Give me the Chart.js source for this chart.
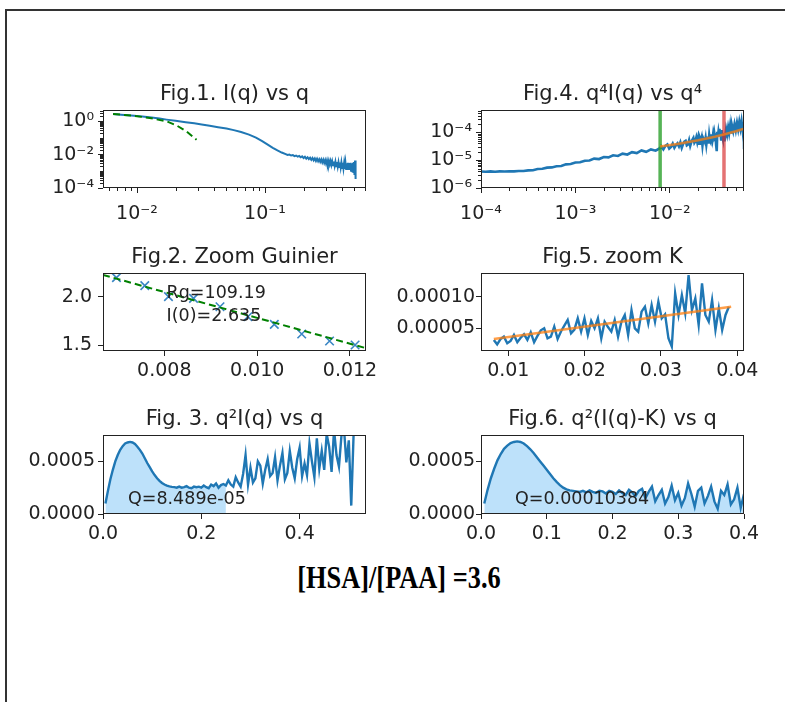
<!DOCTYPE html>
<html><head><meta charset="utf-8">
<script src="https://cdn.jsdelivr.net/npm/chart.js@4.4.0/dist/chart.umd.min.js"></script>
<style>
html,body{margin:0;padding:0;background:#fff;width:785px;height:702px;overflow:hidden;position:relative;}
#frame{position:absolute;left:5px;top:9px;width:800px;height:720px;border-top:2px solid #333;border-left:2px solid #333;}
canvas{position:absolute;}
#caption{position:absolute;left:199px;width:400px;top:561px;line-height:34px;text-align:center;font-family:'Liberation Serif',serif;font-weight:bold;font-size:31px;color:#000;white-space:nowrap;transform:scaleX(0.85);transform-origin:50% 50%;}
</style></head><body>
<div id="frame"></div>
<div id="caption">[HSA]/[PAA] =3.6</div>
<script>
// ---------- shared q grid (Fig.1 high-q part, Fig.3, Fig.6) ----------
const qGrid = [0.005,0.010,0.015,0.020,0.025,0.030,0.035,0.040,0.045,0.050,
0.055,0.060,0.065,0.070,0.075,0.080,0.085,0.090,0.095,0.100,
0.105,0.110,0.115,0.120,0.125,0.130,0.135,0.140,0.145,0.150,
0.155,0.160,0.165,0.170,0.175,0.180,0.185,0.190,0.195,0.200,
0.205,0.210,0.215,0.220,0.225,0.230,0.235,0.240,0.245,0.250,
0.255,0.260,0.265,0.270,0.275,0.280,0.285,0.290,0.295,0.300,
0.305,0.310,0.315,0.320,0.325,0.330,0.335,0.340,0.345,0.350,
0.355,0.360,0.365,0.370,0.375,0.380,0.385,0.390,0.395,0.400,
0.405,0.410,0.415,0.420,0.425,0.430,0.435,0.440,0.445,0.450,
0.455,0.460,0.465,0.470,0.475,0.480,0.485,0.490,0.495,0.500,
0.505,0.510];

// ---------- Fig.1  I(q) vs q ----------
const fig1QLow = [0.0065,0.0075,0.0085,0.0095,0.011,0.013,0.015,0.017,0.020,0.024,0.028,0.032,0.037,0.043,0.050,0.057,0.065,0.075,0.085,0.095,0.105,0.115,0.125,0.135,0.145];
const fig1ILow = [2.8,2.55,2.35,2.2,1.95,1.7,1.48,1.28,1.08,0.9,0.77,0.66,0.55,0.45,0.37,0.30,0.23,0.16,0.105,0.065,0.040,0.026,0.018,0.0135,0.0108];
const fig1IHigh = [0.0096,0.0102,0.0089,0.0094,0.0082,0.0089,0.0076,0.0084,0.0070,0.0079,
0.0063,0.0076,0.0058,0.0070,0.0054,0.0066,0.0049,0.0063,0.0046,0.0060,
0.0042,0.0058,0.0040,0.0054,0.0037,0.0052,0.0034,0.0050,0.0032,0.0048,
0.0029,0.0047,0.0027,0.0044,0.0026,0.0042,0.0024,0.0040,0.0023,0.0039,
0.0021,0.0038,0.0020,0.0036,0.0019,0.0035,0.0018,0.0034,0.0017,0.0034,
0.0016,0.0033,0.0015,0.0032,0.0014,0.0033,0.0014,0.0031,0.0013,0.0032,
0.0012,0.0030,0.0012,0.0032,0.0011,0.0030,0.0010,0.0033,0.0009,0.0036,
0.0006,0.0045,0.00035];
const fig1FitQ = [0.0065,0.0094,0.0126,0.0171,0.0204,0.0244,0.0292];
const fig1FitI = [2.8,2.2,1.6,1.0,0.57,0.25,0.078];
const fig1XTicks = [0.01,0.1], fig1XLabels = ['10⁻²','10⁻¹'];
const fig1YTicks = [1e-4,1e-2,1], fig1YLabels = ['10⁻⁴','10⁻²','10⁰'];

// ---------- Fig.2  Zoom Guinier ----------
const fig2Q = [0.00697,0.00758,0.00809,0.00863,0.00920,0.00980,0.01037,0.01096,0.01156,0.01211];
const fig2LnI = [2.197,2.114,2.0,1.983,1.896,1.793,1.714,1.614,1.541,1.5];
const fig2FitQ = [0.00668,0.01234];
const fig2FitLnI = [2.225,1.468];
const fig2XTicks = [0.008,0.010,0.012], fig2XLabels = ['0.008','0.010','0.012'];
const fig2YTicks = [1.5,2.0], fig2YLabels = ['1.5','2.0'];

// ---------- Fig.3  q^2 I(q) vs q ----------
const fig3Y = [1.0e-4,2.2e-4,3.3e-4,4.2e-4,5.0e-4,5.6e-4,6.1e-4,6.45e-4,6.7e-4,6.8e-4,
6.85e-4,6.8e-4,6.65e-4,6.4e-4,6.1e-4,5.75e-4,5.3e-4,4.85e-4,4.45e-4,4.05e-4,
3.7e-4,3.4e-4,3.15e-4,2.95e-4,2.8e-4,2.7e-4,2.62e-4,2.58e-4,2.55e-4,
2.5e-4,2.6e-4,2.5e-4,2.55e-4,2.65e-4,2.5e-4,2.45e-4,2.6e-4,2.55e-4,2.6e-4,
2.5e-4,2.7e-4,2.55e-4,2.45e-4,2.8e-4,2.65e-4,2.9e-4,2.5e-4,2.75e-4,2.85e-4,
2.7e-4,3.2e-4,2.8e-4,2.6e-4,3.5e-4,3.0e-4,2.6e-4,3.8e-4,5.6e-4,2.8e-4,
4.4e-4,3.0e-4,3.4e-4,5.0e-4,4.6e-4,2.9e-4,4.2e-4,5.2e-4,3.6e-4,3.9e-4,
5.4e-4,3.2e-4,4.6e-4,5.8e-4,3.3e-4,3.9e-4,6.0e-4,4.4e-4,3.4e-4,5.2e-4,
6.3e-4,3.6e-4,4.8e-4,3.7e-4,6.7e-4,5.0e-4,3.5e-4,7.2e-4,4.3e-4,6.0e-4,
4.2e-4,7.6e-4,6.4e-4,4.0e-4,8.0e-4,5.6e-4,4.5e-4,7.4e-4,8.3e-4,4.9e-4,
7.0e-4,0.8e-4,7.9e-4];
const fig3FillEnd = 0.25;
const fig3XTicks = [0,0.2,0.4], fig3XLabels = ['0.0','0.2','0.4'];
const fig3YTicks = [0,0.0005], fig3YLabels = ['0.0000','0.0005'];

// ---------- Fig.4  q^4 I(q) vs q^4 ----------
const fig4XLow = [1.0e-4,1.12e-4,1.26e-4,1.41e-4,1.58e-4,1.78e-4,2.0e-4,2.24e-4,2.51e-4,2.82e-4,
3.16e-4,3.55e-4,3.98e-4,4.47e-4,5.01e-4,5.62e-4,6.31e-4,7.08e-4,7.94e-4,8.91e-4,
1.0e-3,1.12e-3,1.26e-3,1.41e-3,1.58e-3,1.78e-3,2.0e-3,2.24e-3,2.51e-3,2.82e-3,
3.16e-3,3.55e-3,3.98e-3,4.47e-3,5.01e-3,5.62e-3,6.31e-3,7.08e-3,7.94e-3];
const fig4YLow = [3.9e-6,3.85e-6,3.95e-6,3.85e-6,3.95e-6,3.9e-6,4.0e-6,3.95e-6,4.1e-6,4.1e-6,
4.3e-6,4.35e-6,4.8e-6,4.9e-6,5.4e-6,5.5e-6,6.1e-6,6.2e-6,7.1e-6,7.3e-6,
8.3e-6,8.4e-6,9.6e-6,9.8e-6,1.14e-5,1.1e-5,1.3e-5,1.26e-5,1.5e-5,1.42e-5,
1.72e-5,1.6e-5,1.95e-5,1.8e-5,2.25e-5,2.0e-5,2.45e-5,2.2e-5,2.75e-5];
const fig4XHigh = [0.0395,0.0405,0.0415,0.0425,0.0435,0.0445,0.0455,0.0470,0.0485,0.0500,0.0515,0.0530,0.0545,0.0560,0.0575,0.0590,0.0600,0.0610,0.0612];
const fig4YHigh = [1.3e-4,8.5e-5,1.5e-4,9.5e-5,1.7e-4,1.0e-4,1.8e-4,1.1e-4,2.0e-4,1.2e-4,2.2e-4,1.3e-4,2.4e-4,1.4e-4,2.5e-4,1.2e-4,2.3e-4,6.0e-5,2.5e-5];
const fig4FitX = [0.0079,0.012,0.02,0.03,0.04,0.05,0.0612];
const fig4FitY = [3.1e-5,3.8e-5,5.2e-5,7.0e-5,9.0e-5,1.1e-4,1.35e-4];
const fig4KMin = 0.0079, fig4KMax = 0.0375;
const fig4XTicks = [1e-4,1e-3,1e-2], fig4XLabels = ['10⁻⁴','10⁻³','10⁻²'];
const fig4YTicks = [1e-6,1e-5,1e-4], fig4YLabels = ['10⁻⁶','10⁻⁵','10⁻⁴'];

// ---------- Fig.5  zoom K ----------
const fig5X = [0.00810,0.00854,0.00898,0.00942,0.00986,0.01030,0.01074,0.01118,0.01162,0.01206,
0.01250,0.01294,0.01338,0.01382,0.01426,0.01470,0.01514,0.01558,0.01602,0.01646,
0.01690,0.01734,0.01778,0.01822,0.01866,0.01910,0.01954,0.01998,0.02042,0.02086,
0.02130,0.02174,0.02218,0.02262,0.02306,0.02350,0.02394,0.02438,0.02482,0.02526,
0.02570,0.02614,0.02658,0.02702,0.02746,0.02790,0.02834,0.02878,0.02922,0.02966,
0.03010,0.03054,0.03098,0.03142,0.03186,0.03230,0.03274,0.03318,0.03362,0.03406,
0.03450,0.03494,0.03538,0.03582,0.03626,0.03670,0.03714,0.03758,0.03802,0.03846,0.03890];
const fig5Y = [3.16e-5,2.47e-5,3.30e-5,3.68e-5,2.63e-5,3.00e-5,3.95e-5,2.79e-5,3.50e-5,4.05e-5,
3.16e-5,4.37e-5,2.79e-5,3.80e-5,4.68e-5,5.00e-5,3.42e-5,3.68e-5,5.26e-5,3.32e-5,
4.50e-5,5.42e-5,6.32e-5,4.21e-5,4.80e-5,6.58e-5,4.47e-5,6.58e-5,3.95e-5,6.16e-5,
5.00e-5,6.58e-5,3.42e-5,6.05e-5,5.20e-5,4.47e-5,6.32e-5,3.68e-5,6.05e-5,7.11e-5,
3.95e-5,7.89e-5,5.00e-5,4.47e-5,7.63e-5,8.42e-5,5.79e-5,8.68e-5,6.05e-5,9.21e-5,
6.58e-5,7.20e-5,3.42e-5,2.11e-5,1.053e-4,7.11e-5,1.026e-4,7.37e-5,1.342e-4,7.89e-5,
9.74e-5,5.53e-5,1.211e-4,7.11e-5,6.05e-5,9.47e-5,4.74e-5,8.16e-5,4.74e-5,7.11e-5,8.42e-5];
const fig5FitX = [0.0081,0.0392];
const fig5FitY = [3.3e-5,8.4e-5];
const fig5XTicks = [0.01,0.02,0.03,0.04], fig5XLabels = ['0.01','0.02','0.03','0.04'];
const fig5YTicks = [5e-5,1e-4], fig5YLabels = ['0.00005','0.00010'];

// ---------- Fig.6  q^2 (I(q)-K) vs q ----------
const fig6Y = [1.0e-4,2.3e-4,3.4e-4,4.3e-4,5.1e-4,5.7e-4,6.2e-4,6.5e-4,6.75e-4,6.85e-4,
6.9e-4,6.85e-4,6.7e-4,6.45e-4,6.15e-4,5.8e-4,5.4e-4,5.0e-4,4.6e-4,4.2e-4,
3.8e-4,3.4e-4,3.05e-4,2.75e-4,2.5e-4,2.35e-4,2.25e-4,2.2e-4,2.15e-4,
2.1e-4,2.2e-4,2.05e-4,2.25e-4,2.1e-4,2.0e-4,2.2e-4,2.15e-4,1.95e-4,2.2e-4,
2.1e-4,1.9e-4,2.25e-4,2.0e-4,1.8e-4,2.3e-4,2.05e-4,1.7e-4,2.2e-4,2.4e-4,
1.5e-4,2.1e-4,2.6e-4,1.2e-4,1.8e-4,2.3e-4,1.0e-4,1.6e-4,2.7e-4,1.3e-4,
2.0e-4,0.8e-4,1.5e-4,2.9e-4,1.9e-4,0.7e-4,2.2e-4,2.5e-4,1.0e-4,1.7e-4,
2.6e-4,1.2e-4,0.5e-4,2.2e-4,1.8e-4,2.8e-4,0.9e-4,1.4e-4,2.5e-4,0.6e-4,
1.9e-4];
const fig6XTicks = [0,0.1,0.2,0.3,0.4], fig6XLabels = ['0.0','0.1','0.2','0.3','0.4'];
const fig6YTicks = [0,0.0005], fig6YLabels = ['0.0000','0.0005'];

const titles = ['Fig.1. I(q) vs q','Fig.2. Zoom Guinier','Fig. 3. q²I(q) vs q','Fig.4. q⁴I(q) vs q⁴','Fig.5. zoom K','Fig.6. q²(I(q)-K) vs q'];

// ---------- helpers ----------
Chart.defaults.font.family = "'DejaVu Sans', sans-serif";
Chart.defaults.color = '#222';
const TICK_FONT = 19, TITLE_FONT = 21, NOTE_FONT = 17.5;
const YW = 90, XH = 44, PT = 42, PR = 36;
const BLUE = '#1f77b4';

function pts(xs, ys) { return xs.map((x, i) => ({x: x, y: ys[i]})); }
function minorLog(lo, hi, extra) {
  const out = (extra || []).slice();
  for (let e = Math.floor(Math.log10(lo)) - 1; e <= Math.ceil(Math.log10(hi)); e++) {
    for (let m = 2; m <= 9; m++) { const v = m * Math.pow(10, e); if (v >= lo * 0.999 && v <= hi * 1.001) out.push(v); }
  }
  return out;
}
function line(data, color, width, order, extra) {
  return Object.assign({data: data, showLine: true, pointRadius: 0, borderColor: color, backgroundColor: color,
    borderWidth: width, fill: false, clip: 0, order: order, tension: 0}, extra || {});
}

function makeChart(spec) {
  const cv = document.createElement('canvas');
  const W = YW + spec.pw + PR, H = PT + spec.ph + XH;
  cv.width = W; cv.height = H;
  cv.style.left = (spec.left - YW) + 'px';
  cv.style.top = (spec.top - PT) + 'px';
  cv.style.width = W + 'px'; cv.style.height = H + 'px';
  document.body.appendChild(cv);
  const deco = {
    id: 'deco',
    afterDraw(chart) {
      const ctx = chart.ctx, ca = chart.chartArea, sx = chart.scales.x, sy = chart.scales.y;
      ctx.save();
      ctx.strokeStyle = '#222'; ctx.lineWidth = 1;
      (spec.x.minor || []).forEach(v => {
        const p = Math.round(sx.getPixelForValue(v)) + 0.5;
        ctx.beginPath(); ctx.moveTo(p, ca.bottom); ctx.lineTo(p, ca.bottom + 3); ctx.stroke();
      });
      (spec.y.minor || []).forEach(v => {
        const p = Math.round(sy.getPixelForValue(v)) + 0.5;
        ctx.beginPath(); ctx.moveTo(ca.left - 3, p); ctx.lineTo(ca.left, p); ctx.stroke();
      });
      ctx.strokeRect(Math.round(ca.left) + 0.5, Math.round(ca.top) + 0.5, Math.round(ca.right - ca.left) - 1, Math.round(ca.bottom - ca.top) - 1);
      ctx.fillStyle = '#222';
      ctx.font = TITLE_FONT + "px 'DejaVu Sans'";
      ctx.textAlign = 'center'; ctx.textBaseline = 'alphabetic';
      ctx.fillText(spec.title, (ca.left + ca.right) / 2, ca.top - 10);
      ctx.font = NOTE_FONT + "px 'DejaVu Sans'";
      ctx.textAlign = 'left'; ctx.textBaseline = 'middle';
      (spec.notes || []).forEach(n => {
        ctx.fillText(n.text, sx.getPixelForValue(n.x), sy.getPixelForValue(n.y));
      });
      ctx.restore();
    }
  };
  function axis(ax, isX) {
    return {
      type: ax.type || 'linear', position: isX ? 'bottom' : 'left',
      min: ax.min, max: ax.max,
      afterBuildTicks: s => { s.ticks = ax.ticks.map(v => ({value: v})); },
      afterFit: s => { if (isX) s.height = XH; else s.width = YW; },
      ticks: { autoSkip: false, maxRotation: 0, minRotation: 0, padding: ax.pad !== undefined ? ax.pad : 4,
        color: '#222', font: {size: TICK_FONT}, callback: (v, i) => ax.labels[i] },
      grid: { display: true, drawOnChartArea: false, drawTicks: true, tickLength: 5, tickColor: '#222', tickWidth: 1 },
      border: { display: false }
    };
  }
  return new Chart(cv, {
    type: 'scatter',
    data: { datasets: spec.datasets },
    options: {
      responsive: false, animation: false, devicePixelRatio: 1, events: [],
      layout: { padding: { top: PT, right: PR, left: 0, bottom: 0 } },
      plugins: { legend: {display: false}, tooltip: {enabled: false}, title: {display: false} },
      scales: { x: axis(spec.x, true), y: axis(spec.y, false) }
    },
    plugins: [deco]
  });
}

const LEFT1 = 103, LEFT2 = 481, PW = 263;

// Fig.1
makeChart({
  left: LEFT1, top: 110, pw: PW, ph: 78, title: titles[0],
  x: {type: 'logarithmic', min: 0.005425, max: 0.615, ticks: fig1XTicks, labels: fig1XLabels, pad: 10, minor: minorLog(0.005425, 0.615)},
  y: {type: 'logarithmic', min: 1e-4, max: 4.84, ticks: fig1YTicks, labels: fig1YLabels, minor: minorLog(1e-4, 4.84, [1e-3, 1e-1])},
  datasets: [
    line(pts(fig1QLow.concat(qGrid.slice(29)), fig1ILow.concat(fig1IHigh)), BLUE, 2, 5),
    line(pts(fig1FitQ, fig1FitI), '#008000', 2, 1, {borderDash: [7, 4]})
  ]
});

// Fig.2
makeChart({
  left: LEFT1, top: 273, pw: PW, ph: 78, title: titles[1],
  x: {min: 0.00668, max: 0.012345, ticks: fig2XTicks, labels: fig2XLabels},
  y: {min: 1.438, max: 2.245, ticks: fig2YTicks, labels: fig2YLabels, pad: 6},
  notes: [{x: 0.00805, y: 2.038, text: 'Rg=109.19'}, {x: 0.00805, y: 1.80, text: 'I(0)=2.635'}],
  datasets: [
    {data: pts(fig2Q, fig2LnI), showLine: false, pointStyle: 'crossRot', pointRadius: 6, borderColor: '#3a86c4', backgroundColor: '#3a86c4', pointBorderWidth: 1.6, clip: 0, order: 5},
    line(pts(fig2FitQ, fig2FitLnI), '#008000', 2, 1, {borderDash: [7, 4]})
  ]
});

// Fig.3
const fig3Fill = qGrid.filter(q => q <= fig3FillEnd + 1e-9).length;
makeChart({
  left: LEFT1, top: 435, pw: PW, ph: 79, title: titles[2],
  x: {min: 0, max: 0.535, ticks: fig3XTicks, labels: fig3XLabels},
  y: {min: 0, max: 0.000751, ticks: fig3YTicks, labels: fig3YLabels, pad: 3},
  notes: [{x: 0.0508, y: 1.36e-4, text: 'Q=8.489e-05'}],
  datasets: [
    line(pts(qGrid, fig3Y), BLUE, 2.4, 5),
    line(pts(qGrid.slice(0, fig3Fill), fig3Y.slice(0, fig3Fill)), 'rgba(0,0,0,0)', 0, 10, {fill: 'origin', backgroundColor: 'rgba(135,200,245,0.55)'})
  ]
});

// Fig.4
makeChart({
  left: LEFT2, top: 110, pw: PW, ph: 78, title: titles[3],
  x: {type: 'logarithmic', min: 1e-4, max: 0.0611, ticks: fig4XTicks, labels: fig4XLabels, pad: 10, minor: minorLog(1e-4, 0.0611)},
  y: {type: 'logarithmic', min: 1e-6, max: 6.4e-4, ticks: fig4YTicks, labels: fig4YLabels, minor: minorLog(1e-6, 6.4e-4)},
  datasets: [
    line(pts(fig4XLow.concat(fig5X, fig4XHigh), fig4YLow.concat(fig5Y, fig4YHigh)), BLUE, 2.6, 5),
    line(pts([fig4KMin, fig4KMin], [1e-6, 6.4e-4]), 'rgba(44,160,44,0.8)', 3.5, 3),
    line(pts([fig4KMax, fig4KMax], [1e-6, 6.4e-4]), 'rgba(214,39,40,0.65)', 3.5, 3),
    line(pts(fig4FitX, fig4FitY), 'rgba(255,127,14,0.75)', 2.5, 1)
  ]
});

// Fig.5
makeChart({
  left: LEFT2, top: 273, pw: PW, ph: 78, title: titles[4],
  x: {min: 0.006423, max: 0.04088, ticks: fig5XTicks, labels: fig5XLabels},
  y: {min: 1.41e-5, max: 1.375e-4, ticks: fig5YTicks, labels: fig5YLabels, pad: 1},
  datasets: [
    line(pts(fig5X, fig5Y), BLUE, 2.4, 5),
    line(pts(fig5FitX, fig5FitY), 'rgba(255,127,14,0.75)', 2.5, 1)
  ]
});

// Fig.6
const fig6Q = qGrid.slice(0, fig6Y.length);
makeChart({
  left: LEFT2, top: 435, pw: PW, ph: 79, title: titles[5],
  x: {min: 0, max: 0.4, ticks: fig6XTicks, labels: fig6XLabels},
  y: {min: 0, max: 0.000751, ticks: fig6YTicks, labels: fig6YLabels, pad: 1},
  notes: [{x: 0.0517, y: 1.36e-4, text: 'Q=0.00010384'}],
  datasets: [
    line(pts(fig6Q, fig6Y), BLUE, 2.4, 5),
    line(pts(fig6Q, fig6Y), 'rgba(0,0,0,0)', 0, 10, {fill: 'origin', backgroundColor: 'rgba(135,200,245,0.55)'})
  ]
});
</script>
</body></html>
